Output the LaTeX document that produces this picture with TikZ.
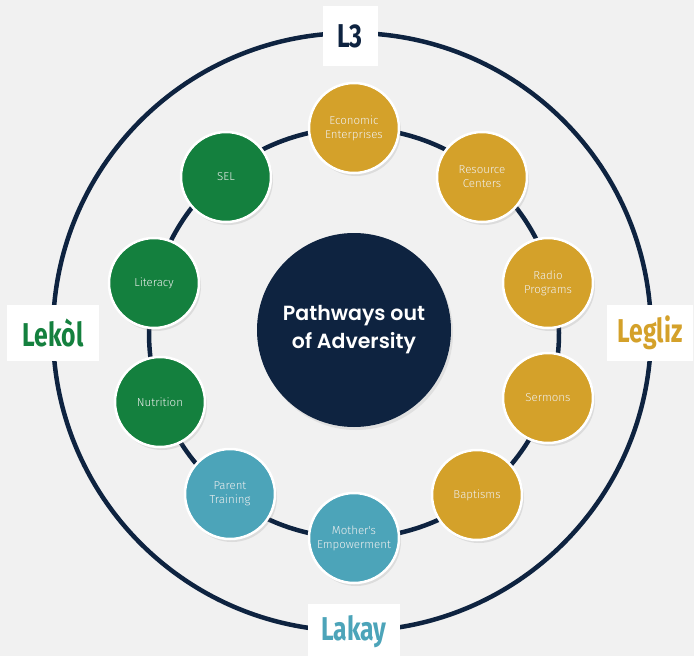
\documentclass[tikz,border=0pt]{standalone}
\usepackage{fontspec}
\setmainfont{Fira Sans}
\newfontfamily\thinfont{Fira Sans Light}
\newfontfamily\corefont{Poppins SemiBold}
\newfontfamily\tagfont{Fira Sans}[FakeStretch=0.75]
\usetikzlibrary{shadows}

\definecolor{navy1}{RGB}{14, 35, 64}
\definecolor{gold1}{RGB}{212, 161, 42}
\definecolor{green1}{RGB}{20, 128, 62}
\definecolor{teal1}{RGB}{76, 164, 185}
\definecolor{bggray}{RGB}{241, 241, 241}

\tikzset{
  ring/.style={draw=navy1, line width=4.5pt},
  pathcircle/.style={circle, draw=white, line width=2.5pt, minimum size=90pt, inner sep=0pt,
    align=center, text=white!88!gray, font=\thinfont\fontsize{11.5}{14}\selectfont,
    drop shadow={opacity=0.18, shadow xshift=2pt, shadow yshift=-3pt}},
  tagbox/.style={fill=white, minimum height=56pt, inner sep=0pt,
    font=\tagfont\bfseries\fontsize{33}{36}\selectfont},
}

\begin{document}
\begin{tikzpicture}[x=1pt, y=-1pt]
  % Background
  \fill[bggray] (0,0) rectangle (694,656);
  \useasboundingbox (0,0) rectangle (694,656);

  % Rings
  \coordinate (hub) at (352,332);
  \draw[ring] (hub) circle (299);
  \draw[ring] (354,333) circle (205);

  % Ring labels
  \node[tagbox, minimum width=55pt, minimum height=60pt, text=navy1] (l3) at (350,36) {L3};
  \node[tagbox, minimum width=92pt, text=green1] (lekol) at (53,333) {Lekòl};
  \node[tagbox, minimum width=86pt, text=gold1] (legliz) at (650,333) {Legliz};
  \node[tagbox, minimum width=92pt, text=teal1] (lakay) at (354,632) {Lakay};

  % Centre
  \node[circle, fill=navy1, minimum size=194pt, inner sep=0pt, align=center, text=white,
    font=\corefont\fontsize{20.5}{28}\selectfont,
    drop shadow={opacity=0.15, shadow xshift=2pt, shadow yshift=-3pt}] (core) at (354,330)
    {Pathways out\\of Adversity};

  % Church
  \node[pathcircle, fill=gold1] (econ) at (354,128) {Economic\\Enterprises};
  \node[pathcircle, fill=gold1] (resource) at (482,177) {Resource\\Centers};
  \node[pathcircle, fill=gold1] (radio) at (548,283) {Radio\\Programs};
  \node[pathcircle, fill=gold1] (sermons) at (548,398) {Sermons};
  \node[pathcircle, fill=gold1] (baptisms) at (477,495) {Baptisms};

  % Home
  \node[pathcircle, fill=teal1] (mother) at (354,538) {Mother's\\Empowerment};
  \node[pathcircle, fill=teal1] (parent) at (230,494) {Parent\\Training};

  % School
  \node[pathcircle, fill=green1] (nutrition) at (160,402) {Nutrition};
  \node[pathcircle, fill=green1] (literacy) at (154,283) {Literacy};
  \node[pathcircle, fill=green1] (sel) at (226,177) {SEL};
\end{tikzpicture}
\end{document}
